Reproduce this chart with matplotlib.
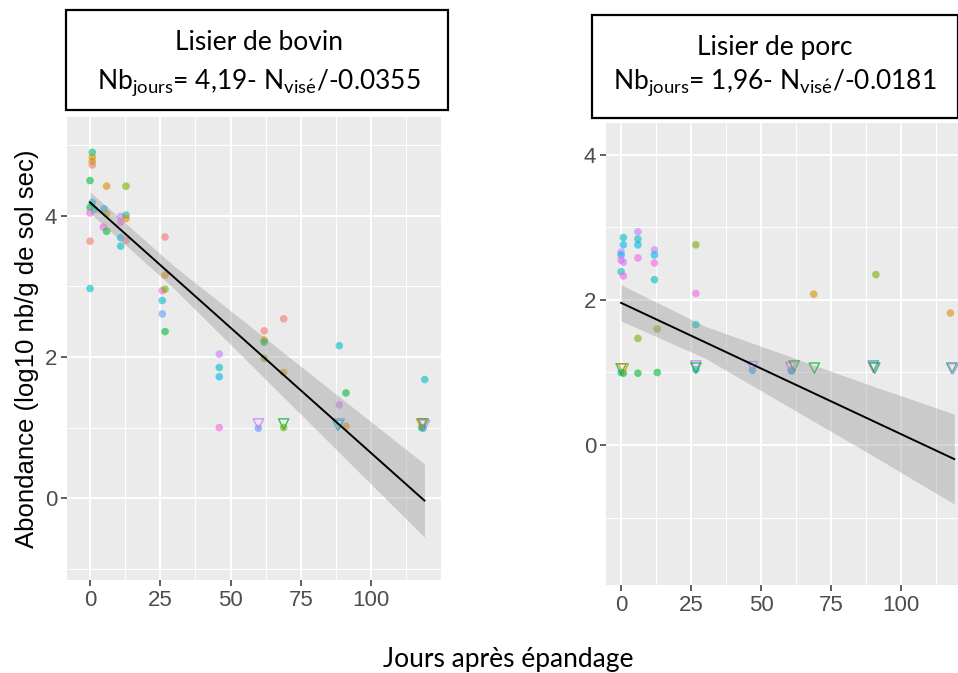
import matplotlib
matplotlib.use("Agg")
import matplotlib.pyplot as plt
from matplotlib.patches import Rectangle
from matplotlib.ticker import MultipleLocator

# ggplot hue colours used for the sampling groups
palette = {"sal": "#F8766D", "ora": "#DE8C00", "oli": "#B79F00", "yg": "#7CAE00",
           "grn": "#00BA38", "tg": "#00C08B", "cya": "#00BFC4", "blu": "#00B4F0",
           "per": "#619CFF", "vio": "#C77CFF", "pin": "#F564E3", "ros": "#FF64B0"}

# --- Lisier de bovin ---
bov_x = [0.8, 0.8, 0.8, 0.8, 0, 5.9, 12.8, 0.8, 0, 1.5, 0, 5, 5.9, 10.9, 12.8, 12.8, 10.9,
         4.7, 5.9, 0, 10.9, 10.9, 12.8, 26.7, 26.7, 25.7, 26.7, 25.7, 25.7, 26.7, 0, 46, 46,
         46, 46, 62, 62, 62, 62, 68.9, 68.9, 88.7, 91.1, 88.7, 91.1, 59.9, 68.9, 118, 119.1, 118.5]
bov_y = [4.90, 4.83, 4.77, 4.72, 4.50, 4.42, 4.42, 4.19, 4.12, 4.09, 4.04, 4.10, 4.03, 3.99,
         4.01, 3.96, 3.91, 3.84, 3.78, 3.64, 3.69, 3.57, 3.65, 3.70, 3.16, 2.94, 2.96, 2.80,
         2.61, 2.36, 2.97, 2.04, 1.85, 1.72, 1.00, 2.37, 2.24, 2.21, 1.98, 2.54, 1.78, 2.16,
         1.49, 1.32, 1.02, 0.99, 1.00, 1.00, 1.68, 0.99]
bov_c = ["tg", "ora", "oli", "sal", "grn", "ora", "yg", "blu", "grn", "cya", "pin", "blu", "oli",
         "vio", "tg", "ora", "pin", "pin", "grn", "sal", "blu", "cya", "sal", "sal", "ora", "pin",
         "yg", "cya", "per", "grn", "cya", "vio", "cya", "blu", "pin", "sal", "ora", "grn", "yg",
         "sal", "ora", "cya", "grn", "vio", "ora", "per", "yg", "grn", "cya", "cya"]
bov_tx = [59.9, 68.9, 88.7, 88.2, 118, 118.5, 119]
bov_ty = [1.05, 1.05, 1.05, 1.03, 1.05, 1.05, 1.03]
bov_tc = ["vio", "grn", "per", "cya", "ora", "grn", "vio"]
bov_fit = (4.19, -0.0355)
bov_ci_x = [0, 30, 60, 90, 119]
bov_ci_half = [0.15, 0.16, 0.28, 0.40, 0.52]

# --- Lisier de porc ---
porc_x = [0.8, 0.8, 0, 0, 0, 0.8, 0, 0.8, 6.0, 6.0, 6.0, 6.0, 6.0, 6.0, 11.9, 11.9, 11.9, 11.9,
          12.9, 12.9, 26.7, 26.7, 26.7, 26.7, 0, 0.8, 46.9, 60.6, 68.8, 91, 117.6, 61]
porc_y = [2.86, 2.76, 2.66, 2.62, 2.55, 2.52, 2.39, 2.33, 2.94, 2.84, 2.76, 2.58, 1.47, 0.99,
          2.69, 2.62, 2.51, 2.28, 1.60, 1.00, 2.76, 2.09, 1.66, 1.04, 1.00, 0.99, 1.03, 1.03,
          2.08, 2.35, 1.82, 1.02]
porc_c = ["cya", "blu", "vio", "blu", "pin", "vio", "cya", "pin", "vio", "cya", "blu", "pin",
          "yg", "grn", "vio", "blu", "pin", "cya", "yg", "grn", "yg", "pin", "cya", "cya", "cya",
          "grn", "blu", "per", "ora", "yg", "ora", "blu"]
porc_tx = [0, 0.8, 26.7, 26.7, 46.9, 60.6, 61.8, 69, 90.1, 90.1, 90.6, 118.1, 118.6]
porc_ty = [1.05, 1.05, 1.09, 1.06, 1.08, 1.07, 1.09, 1.06, 1.09, 1.07, 1.06, 1.06, 1.05]
porc_tc = ["grn", "ora", "vio", "grn", "vio", "pin", "grn", "grn", "cya", "pin", "grn", "grn", "vio"]
porc_fit = (1.96, -0.0181)
porc_ci_x = [0, 30, 60, 90, 119]
porc_ci_half = [0.25, 0.22, 0.35, 0.48, 0.62]

x_ticks = [0, 25, 50, 75, 100]
y_ticks = [0, 2, 4]

W, H = 958, 673
fig = plt.figure(figsize=(W / 100, H / 100), dpi=100)
plt.rcParams["mathtext.fontset"] = "custom"
plt.rcParams["mathtext.rm"] = "Lato"


def fig_box(x0, y0, x1, y1):
    return [x0 / W, 1 - y1 / H, (x1 - x0) / W, (y1 - y0) / H]


def draw_panel(ax, xs, ys, cs, tx, ty, tc, fit, ci_x, ci_half, xlim, ylim):
    ax.set_facecolor("#EBEBEB")
    for s in ax.spines.values():
        s.set_visible(False)
    ax.set_xlim(*xlim)
    ax.set_ylim(*ylim)
    ax.set_xticks(x_ticks)
    ax.set_yticks(y_ticks)
    ax.xaxis.set_minor_locator(MultipleLocator(12.5))
    ax.yaxis.set_minor_locator(MultipleLocator(1))
    ax.grid(which="major", color="white", lw=1.4, zorder=0)
    ax.grid(which="minor", color="white", lw=0.7, zorder=0)
    ax.set_axisbelow(True)
    ax.tick_params(which="major", length=4, width=1.1, color="#333333",
                   labelcolor="#4D4D4D", labelsize=16, pad=3)
    ax.tick_params(which="minor", length=0)
    for lab in ax.get_xticklabels() + ax.get_yticklabels():
        lab.set_family("Liberation Sans")

    a, b = fit
    line_y = [a + b * x for x in ci_x]
    lo = [v - h for v, h in zip(line_y, ci_half)]
    hi = [v + h for v, h in zip(line_y, ci_half)]
    ax.fill_between(ci_x, lo, hi, color="#999999", alpha=0.4, lw=0, zorder=3)

    ax.scatter(xs, ys, s=30, c=[palette[c] for c in cs], alpha=0.6, lw=0, zorder=2)
    ax.scatter(tx, ty, s=55, marker="v", facecolors="none",
               edgecolors=[palette[c] for c in tc], alpha=0.8, lw=1.0, zorder=2)
    ax.plot([ci_x[0], ci_x[-1]], [a + b * ci_x[0], a + b * ci_x[-1]],
            color="black", lw=1.4, zorder=4)


ax1 = fig.add_axes(fig_box(67, 117, 441, 580))
draw_panel(ax1, bov_x, bov_y, bov_c, bov_tx, bov_ty, bov_tc, bov_fit,
           bov_ci_x, bov_ci_half, (-8.2, 124.9), (-1.16, 5.40))
ax1.set_ylabel("Abondance (log10 nb/g de sol sec)", fontsize=18.5,
               family="Liberation Sans", labelpad=4)

ax2 = fig.add_axes(fig_box(606, 123, 975, 585))
draw_panel(ax2, porc_x, porc_y, porc_c, porc_tx, porc_ty, porc_tc, porc_fit,
           porc_ci_x, porc_ci_half, (-5.4, 126.4), (-1.93, 4.44))

# text boxes on top of the panels
fig.add_artist(Rectangle((66 / W, 1 - 110 / H), 382 / W, 100 / H, transform=fig.transFigure,
                         facecolor="white", edgecolor="black", lw=1.6, zorder=5))
fig.add_artist(Rectangle((592 / W, 1 - 118 / H), 366 / W, 103 / H, transform=fig.transFigure,
                         facecolor="white", edgecolor="black", lw=1.6, zorder=5))

box_font = dict(ha="center", va="center", fontsize=19, family="Lato", zorder=6)
fig.text(259 / W, 1 - 42 / H, "Lisier de bovin", **box_font)
fig.text(259 / W, 1 - 82 / H, r"Nb$_{\mathrm{jours}}$= 4,19- N$_{\mathrm{vis\'e}}$/-0.0355",
         **box_font)
fig.text(775 / W, 1 - 47 / H, "Lisier de porc", **box_font)
fig.text(775 / W, 1 - 83 / H, r"Nb$_{\mathrm{jours}}$= 1,96- N$_{\mathrm{vis\'e}}$/-0.0181",
         **box_font)

fig.text(508 / W, 1 - 660 / H, "Jours après épandage", ha="center", va="center",
         fontsize=19, family="Lato")

fig.savefig("out.png", dpi=100)
